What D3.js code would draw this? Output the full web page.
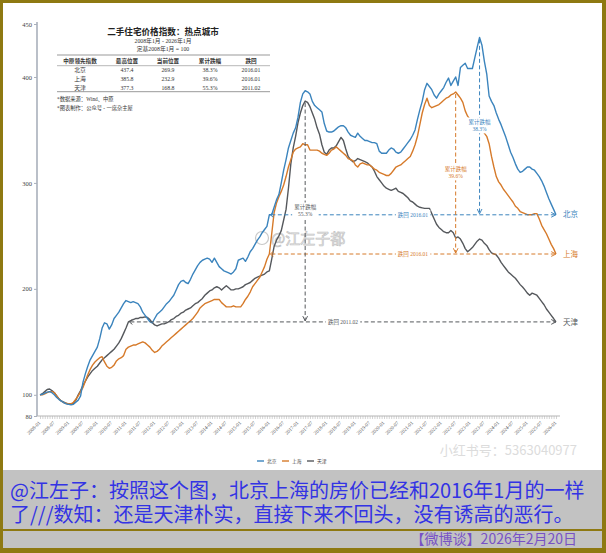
<!DOCTYPE html>
<html><head><meta charset="utf-8">
<script src="https://cdn.jsdelivr.net/npm/d3@7"></script>
<style>body{margin:0;background:#fff}svg{display:block}</style>
</head><body>
<svg id="c" width="606" height="553"></svg>
<script>
// ---------- DATA ----------
const cities = ["北京","上海","天津"];
const beijing = [100,100.5,101.5,102.5,103,102,100,97.5,95.5,94,
92.5,91.5,91,90.5,91,93,95,99,112,120,
127,133,137,141,145,153,163,168,167,162,
166,172,175,178,182,186,189,188,187,188,
187,186,183,178,175,172,169,168,172,176,
178,180,183,186,188,191,194,199,204,207,
208,206,205,209,214,218,222,225,227,228,
229,228,225,229,225,221,219,217,216,215,
214,216,219,227,228,229,226,230,235,238,
242,246,249,253,256,259,269.9,270,277,284,
289,300,312,322,333,340,347,352,362,376,
384,387,386,384,377,373,371,369,367,356,
349,348,348,349,351,353,354,354,352,348,
345,344,343,347,344,342,340,340,339,338,
338,337,330,328,328,328,331,333,332,329,
328,329,332,335,338,341,345,350,360,369,
377,388,394,391,388,383,380,384,387,390,
395,399,392,396,400,392,409,411,413,408,
408,408,418,428,437.4,430,415,403,382,377,
373,366,360,355,349,343,336,329,324,318,
313,310,311,313,315,315,313,312,309,306,
302,297,291,285,280,275,269.9];
const shanghai = [100,100,101,102,103,103,102,99,96,94,
92.5,92,91.5,91.5,93,96,99,103,107,113,
119,124,128,131,133,135,136,131,127,125,
126,128,132,134,135,137,143,145,146,147,
147,148,149,150,149,147,145,142,140,141,
143,146,148,150,152,154,156,158,160,162,
164,166,168,170,172,175,178,182,184,186,
187,188,189,190,190,190,187,185,183,183,
183,184,183,183,183,186,190,193,197,202,
205,208,211,216,221,228,232.9,252,272,281,
287,292,298,306,315,322,329,332,333,334,
337,336,336,331,331,331,331,330,328,327,
326,328,331,332,334,332,330,328,326,323,
322,321,317,315,318,319,318,317,317,315,
313,312,310,309,308,307,307,309,312,315,
316,317,319,321,323,325,330,336,344,355,
366,374,380,373,371,372,373,374,376,378,
380,381,383,384,385.8,383,380,376,368,363,
360,358,356,354,352,350,347,344,337,325,
315,306,301,298,294,291,288,285,282,278,
276,273,272,271,270,270,270,271,271,266,
260,256,252,247,242,238,232.9];
const tianjin = [100,101,103,105,105.5,104,102,99,96,94,
93,92,91,91,92,95,100,104,109,113,
117,120,123,125,127,130,133,135,137,139,
141,143,146,149,153,158,163,168.8,170,171,
172,172,173,173,173.5,173,171,168,166,165,
166,167,167,168,169,171,172,174,175,177,
178,180,181,182,184,186,187,189,191,194,
196,198,199,201,202,201,199,201,203,201,
199,199,200,200,201,202,204,205,206,208,
210,211,212,213,214,216,217,228,240,246,
250,255,265,275,295,318,333,344,357,366,
373,377.3,376,372,366,360,352,346,336,329,
327,331,333,333,335,339,343,340,332,325,
322,320,321,323,322,321,320,319,317,315,
311,306,303,300,297,295,294,293,294,295,
292,291,290,288,286,283,282,280,278,277,
276.5,276,276,276,271,266,261,258,256,254,
253,253,255,253,248,249,247,243,238,235,
237,239,242,245,247,246,243,241,237,234,
233,232,229,225,222,219,216,214,212,210,
207,204,201.7,199,196,194,196,195,194,191,
188,185,181,178,175,172,168.8];
const xTickLabels = ["2008-01","2008-07","2009-01","2009-07","2010-01","2010-07","2011-01","2011-07","2012-01","2012-07","2013-01","2013-07","2014-01","2014-07","2015-01","2015-07","2016-01","2016-07","2017-01","2017-07","2018-01","2018-07","2019-01","2019-07","2020-01","2020-07","2021-01","2021-07","2022-01","2022-07","2023-01","2023-07","2024-01","2024-07","2025-01","2025-07","2026-01"];
const yTickValues = [80,100,200,300,400,450];
const peakVals = [437.4,385.8,377.3];
const currentVals = [269.9,232.9,168.8];
const drops = ["38.3%","39.6%","55.3%"];
const backTo = ["2016.01","2016.01","2011.02"];
const tableHeader = ["中原领先指数","最高位置","当前位置","累计跌幅","跌回"];
const titleText = "二手住宅价格指数：热点城市";
const subTitle1 = "2008年1月 - 2026年1月";
const subTitle2 = "定基2008年1月 = 100";
const notes = ["*数据来源：Wind、中原","*图表制作：公众号 - 一席杂主屋"];
const commentLines = ["@江左子：按照这个图，北京上海的房价已经和2016年1月的一样","了///数知：还是天津朴实，直接下来不回头，没有诱高的恶行。"];
const footerText = "【微博谈】2026年2月20日";

// ---------- LAYOUT ----------
const W = 606, H = 553;
const colors = ["#3b84bd", "#d67a2a", "#55585c"];
const serif = "'Liberation Serif','DejaVu Serif','Noto Sans CJK SC',serif";
const cjk = "'Noto Sans CJK SC','Noto Sans',sans-serif";
const svg = d3.select("#c");

svg.append("rect").attr("width", W).attr("height", H).attr("fill", "#8e7912");
svg.append("rect").attr("x", 3).attr("y", 3).attr("width", 599).attr("height", 467).attr("fill", "#fff");
svg.append("rect").attr("x", 3).attr("y", 470).attr("width", 599).attr("height", 59).attr("fill", "#c2c2c2");
svg.append("rect").attr("x", 3).attr("y", 531).attr("width", 599).attr("height", 17).attr("fill", "#c2c2c2");

const months = d3.range(beijing.length).map(i => d3.timeFormat("%Y-%m")(new Date(2008, i, 1)));
const x = d3.scalePoint().domain(months).range([40, 556]);
const y = d3.scaleLinear().domain([80, 450]).range([416, 24]);

// watermark (weibo)
const wm = svg.append("g");
wm.append("circle").attr("cx", 262).attr("cy", 238).attr("r", 6.5).attr("fill", "none").attr("stroke", "#c8c8c8").attr("stroke-width", 1.2);
wm.append("text").attr("x", 271).attr("y", 244).attr("font-family", cjk).attr("font-size", 15)
  .attr("fill", "#f2f2f2").attr("stroke", "#c4c4c4").attr("stroke-width", 0.7).text("@江左子都");

// y axis
const yAxis = svg.append("g").attr("transform", "translate(37,0)")
  .call(d3.axisLeft(y).tickValues(yTickValues).tickSize(3).tickPadding(2));
yAxis.select(".domain").attr("stroke", "#a9b0bb").attr("stroke-width", 1.6).attr("d", "M0,22V416");
yAxis.selectAll(".tick line").attr("stroke", "#a9b0bb");
yAxis.selectAll("text").attr("font-family", serif).attr("font-size", 6.5).attr("fill", "#444");

// x axis: monthly minor ticks + labels
const xMinor = svg.append("g").attr("transform", "translate(0,416)")
  .call(d3.axisBottom(x).tickValues(months).tickSize(3).tickFormat(""));
xMinor.select(".domain").remove();
xMinor.selectAll(".tick line").attr("stroke", "#b5b5b5").attr("stroke-width", 0.6);
svg.append("line").attr("x1", 37).attr("x2", 560).attr("y1", 416).attr("y2", 416).attr("stroke", "#b5b5b5").attr("stroke-width", 1);
const xAxis = svg.append("g").attr("transform", "translate(0,416)")
  .call(d3.axisBottom(x).tickValues(xTickLabels).tickSize(0));
xAxis.select(".domain").remove();
xAxis.selectAll("text").attr("font-family", serif).attr("font-size", 5).attr("fill", "#555")
  .attr("text-anchor", "end").attr("x", 0).attr("y", 0).attr("dy", "0.35em")
  .attr("transform", "translate(-1,6) rotate(-45)");

// lines
const series = [beijing, shanghai, tianjin];
const line = d3.line().x((d, i) => x(months[i])).y(d => y(d));
[2, 1, 0].forEach(k => {
  svg.append("path").datum(series[k]).attr("d", line).attr("fill", "none")
    .attr("stroke", colors[k]).attr("stroke-width", 1.4).attr("stroke-linejoin", "round");
});

// markers
const defs = svg.append("defs");
colors.forEach((c, k) => {
  defs.append("marker").attr("id", "arr" + k).attr("viewBox", "0 0 10 10").attr("refX", 9).attr("refY", 5)
    .attr("markerWidth", 6).attr("markerHeight", 6).attr("orient", "auto")
    .append("path").attr("d", "M1,1L9,5L1,9").attr("fill", "none").attr("stroke", c).attr("stroke-width", 1.6);
});

function label(g, lines, cx, cy, color, fs) {
  const lh = fs * 1.25;
  const gg = g.append("g");
  const bg = gg.append("rect").attr("fill", "#fff");
  const t = gg.append("text").attr("font-family", serif).attr("font-size", fs).attr("fill", color).attr("text-anchor", "middle");
  lines.forEach((s, j) => t.append("tspan").attr("x", cx).attr("y", cy + j * lh - (lines.length - 1) * lh / 2).attr("dy", "0.35em").text(s));
  const b = t.node().getBBox();
  bg.attr("x", b.x - 2).attr("y", b.y - 1).attr("width", b.width + 4).attr("height", b.height + 2);
}

const backIdx = ["2016-01", "2016-01", "2011-02"];
const backLabelX = [413, 413, 343];
const dropLabelY = [126, 173, 211];
const ann = svg.append("g");
series.forEach((s, k) => {
  const last = months[s.length - 1];
  const yc = y(currentVals[k]);
  const xb = x(backIdx[k]);
  const pi = s.indexOf(peakVals[k]);
  const xp = x(months[pi]);
  // horizontal dashed
  ann.append("line").attr("x1", xb + 2).attr("x2", x(last)).attr("y1", yc).attr("y2", yc)
    .attr("stroke", colors[k]).attr("stroke-width", 1).attr("stroke-dasharray", "4,2.5")
    .attr("marker-end", "url(#arr" + k + ")");
  ann.append("path").attr("d", `M${xb + 4},${yc - 2.5}L${xb + 1},${yc}L${xb + 4},${yc + 2.5}`)
    .attr("fill", "none").attr("stroke", colors[k]).attr("stroke-width", 1);
  // vertical dashed
  ann.append("line").attr("x1", xp).attr("x2", xp).attr("y1", y(peakVals[k]) + 2).attr("y2", yc - 1)
    .attr("stroke", colors[k]).attr("stroke-width", 1).attr("stroke-dasharray", "4,2.5")
    .attr("marker-end", "url(#arr" + k + ")");
});
series.forEach((s, k) => {
  const yc = y(currentVals[k]);
  const pi = s.indexOf(peakVals[k]);
  label(ann, ["跌回 " + backTo[k]], backLabelX[k], yc, colors[k], 5.5);
  label(ann, ["累计跌幅", drops[k]], x(months[pi]), dropLabelY[k], colors[k], 5.5);
  ann.append("text").attr("x", 563).attr("y", yc).attr("dy", "0.35em").attr("font-family", cjk)
    .attr("font-size", 7.5).attr("fill", colors[k]).text(cities[k]);
});

// title block
const tb = svg.append("g");
tb.append("text").attr("x", 163).attr("y", 35).attr("text-anchor", "middle").attr("font-family", cjk)
  .attr("font-weight", "bold").attr("font-size", 8.6).attr("fill", "#222").text(titleText);
tb.append("text").attr("x", 163).attr("y", 43).attr("text-anchor", "middle").attr("font-family", serif)
  .attr("font-size", 5.8).attr("fill", "#333").text(subTitle1);
tb.append("text").attr("x", 163).attr("y", 50.5).attr("text-anchor", "middle").attr("font-family", serif)
  .attr("font-size", 5.8).attr("fill", "#333").text(subTitle2);
[[55, 1], [65.7, 0.7], [91.7, 1]].forEach(([yy, w]) =>
  tb.append("line").attr("x1", 57).attr("x2", 270).attr("y1", yy).attr("y2", yy).attr("stroke", "#999").attr("stroke-width", w));
const colX = [80, 127, 168, 210, 251];
tableHeader.forEach((h, j) => tb.append("text").attr("x", colX[j]).attr("y", 62.8).attr("text-anchor", "middle")
  .attr("font-family", serif).attr("font-size", 5.6).attr("font-weight", "bold").attr("fill", "#333").text(h));
cities.forEach((c, r) => {
  const row = [c, peakVals[r].toFixed(1), currentVals[r].toFixed(1), drops[r], backTo[r]];
  row.forEach((v, j) => tb.append("text").attr("x", colX[j]).attr("y", 72 + r * 9).attr("text-anchor", "middle")
    .attr("font-family", serif).attr("font-size", 5.8).attr("fill", "#333").text(v));
});
notes.forEach((n, j) => tb.append("text").attr("x", 57).attr("y", 101 + j * 8.5).attr("font-family", serif)
  .attr("font-size", 5.3).attr("fill", "#333").text(n));

// legend
const lg = svg.append("g");
const lgX = [257, 282, 307];
cities.forEach((c, k) => {
  lg.append("line").attr("x1", lgX[k]).attr("x2", lgX[k] + 7).attr("y1", 461).attr("y2", 461)
    .attr("stroke", colors[k]).attr("stroke-width", 1.4);
  lg.append("text").attr("x", lgX[k] + 10).attr("y", 461).attr("dy", "0.35em").attr("font-family", cjk)
    .attr("font-size", 4.8).attr("fill", "#444").text(c);
});

// xiaohongshu watermark
svg.append("text").attr("x", 577).attr("y", 455).attr("text-anchor", "end").attr("font-family", cjk)
  .attr("font-size", 13).attr("fill", "#dcdcdc").text("小红书号：5363040977");

// comment text
commentLines.forEach((t, j) => svg.append("text").attr("x", 10).attr("y", 498 + j * 24)
  .attr("font-family", cjk).attr("font-size", 20).attr("fill", "#3333e4").text(t));
svg.append("text").attr("x", 577).attr("y", 544).attr("text-anchor", "end").attr("font-family", cjk)
  .attr("font-size", 14).attr("fill", "#7852c6").text(footerText);
</script>
</body></html>
